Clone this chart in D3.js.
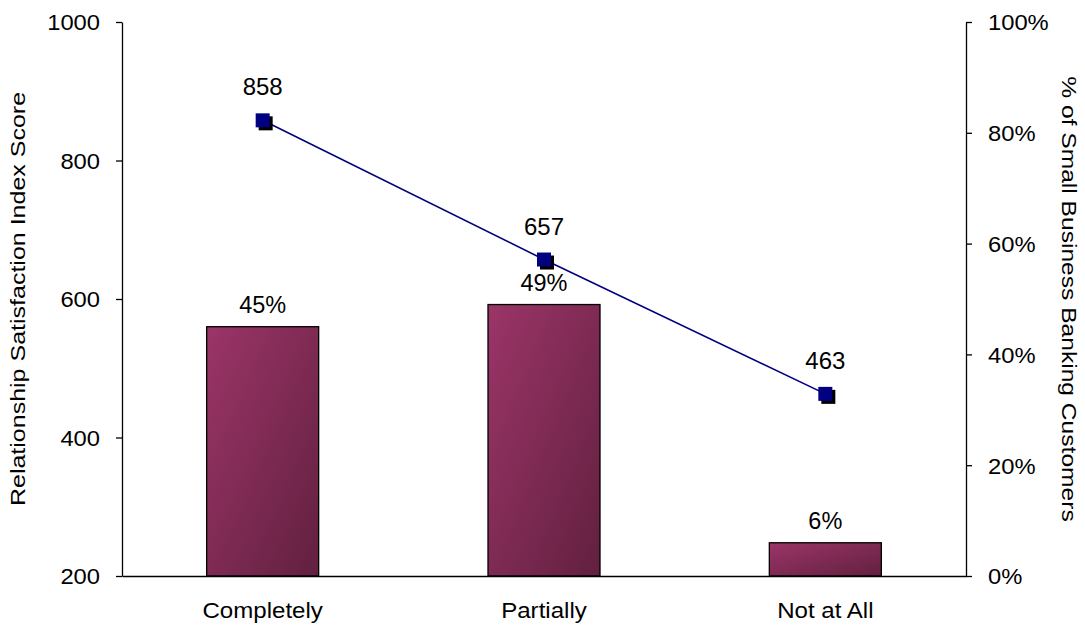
<!DOCTYPE html>
<html>
<head>
<meta charset="utf-8">
<script src="https://cdn.jsdelivr.net/npm/d3@7"></script>
<style>
  html, body { margin: 0; padding: 0; background: #fff; }
  svg { display: block; font-family: "Liberation Sans", Arial, sans-serif; }
</style>
</head>
<body>
<svg id="chart" width="1085" height="628"></svg>
<script>
// Categories and series
const categories = ["Completely", "Partially", "Not at All"];
const shareValues = [45, 49, 6];          // % of customers (bars, right axis)
const scoreValues = [858, 657, 463];      // index score (line, left axis)
const leftTicks = [200, 400, 600, 800, 1000];
const rightTicks = [0, 20, 40, 60, 80, 100];

const svg = d3.select("#chart");
const W = 1085, H = 628;
const margin = { left: 122, right: 119, top: 22, bottom: 52 };
const x0 = margin.left, x1 = W - margin.right;
const yTop = margin.top, yBot = H - margin.bottom;

const xc = d3.scaleBand().domain(categories).range([x0, x1]);
const yL = d3.scaleLinear().domain([200, 1000]).range([yBot, yTop]);
const yR = d3.scaleLinear().domain([0, 100]).range([yBot, yTop]);

// Widen glyphs horizontally around the anchor side of each text
function widen(sel, s, origin) {
  sel.style("transform-box", "fill-box")
     .style("transform-origin", origin)
     .style("transform", `scaleX(${s})`);
}

// Bar gradient
const defs = svg.append("defs");
const grad = defs.append("linearGradient").attr("id", "barGrad")
  .attr("x1", 0).attr("y1", 0).attr("x2", 1).attr("y2", 1);
grad.append("stop").attr("offset", "0%").attr("stop-color", "#9b3568");
grad.append("stop").attr("offset", "100%").attr("stop-color", "#62203f");

// Bars
const barW = 112;
svg.append("g").selectAll("rect").data(categories).join("rect")
  .attr("x", d => xc(d) + xc.bandwidth() / 2 - barW / 2)
  .attr("y", (d, i) => yR(shareValues[i]))
  .attr("width", barW)
  .attr("height", (d, i) => yBot - yR(shareValues[i]))
  .attr("fill", "url(#barGrad)")
  .attr("stroke", "#000").attr("stroke-width", 1.3);

// Bar labels
svg.append("g").selectAll("text").data(categories).join("text")
  .attr("x", d => xc(d) + xc.bandwidth() / 2)
  .attr("y", (d, i) => yR(shareValues[i]) - 14)
  .attr("text-anchor", "middle")
  .attr("font-size", 23.5)
  .text((d, i) => shareValues[i] + "%");

// Axes
const axisStyle = size => g => {
  g.selectAll("path, line").attr("stroke", "#000").attr("stroke-width", 1.3);
  g.selectAll("text").attr("font-size", size).attr("fill", "#000")
    .attr("font-family", "'Liberation Sans', Arial, sans-serif");
};

svg.append("g").attr("transform", `translate(${x0},0)`)
  .call(d3.axisLeft(yL).tickValues(leftTicks).tickFormat(d3.format("d"))
    .tickSize(6).tickSizeOuter(0).tickPadding(16))
  .call(axisStyle(22))
  .call(g => g.selectAll("text").attr("dy", "0.36em").call(widen, 1.08, "right center"));

svg.append("g").attr("transform", `translate(${x1},0)`)
  .call(d3.axisRight(yR).tickValues(rightTicks).tickSize(6).tickSizeOuter(0).tickPadding(16)
    .tickFormat(d => d + "%"))
  .call(axisStyle(22))
  .call(g => g.selectAll("text").attr("dy", "0.36em").call(widen, 1.08, "left center"));

svg.append("g").attr("transform", `translate(0,${yBot})`)
  .call(d3.axisBottom(xc).tickSize(0).tickSizeOuter(0).tickPadding(27))
  .call(axisStyle(21.5))
  .call(g => g.selectAll("text").attr("dy", "0.71em").call(widen, 1.12, "center"));

// Score line
const pts = categories.map((c, i) => [xc(c) + xc.bandwidth() / 2, yL(scoreValues[i])]);
svg.append("path")
  .attr("d", d3.line()(pts))
  .attr("fill", "none").attr("stroke", "#000080").attr("stroke-width", 1.6);

// Markers with drop shadow
const ms = 14;
const mk = svg.append("g").selectAll("g").data(pts).join("g");
mk.append("rect")
  .attr("x", d => d[0] - ms / 2 + 3).attr("y", d => d[1] - ms / 2 + 3)
  .attr("width", ms).attr("height", ms).attr("fill", "#000");
mk.append("rect")
  .attr("x", d => d[0] - ms / 2).attr("y", d => d[1] - ms / 2)
  .attr("width", ms).attr("height", ms).attr("fill", "#000080");

// Score labels
svg.append("g").selectAll("text").data(pts).join("text")
  .attr("x", d => d[0]).attr("y", d => d[1] - 25)
  .attr("text-anchor", "middle")
  .attr("font-size", 24)
  .text((d, i) => scoreValues[i]);

// Axis titles
svg.append("text")
  .attr("transform", `translate(25,${(yTop + yBot) / 2}) rotate(-90) scale(1.22,1)`)
  .attr("text-anchor", "middle").attr("font-size", 20.5)
  .text("Relationship Satisfaction Index Score");

svg.append("text")
  .attr("transform", `translate(1062,${(yTop + yBot) / 2}) rotate(90) scale(1.2,1)`)
  .attr("text-anchor", "middle").attr("font-size", 20.5)
  .text("% of Small Business Banking Customers");
</script>
</body>
</html>
